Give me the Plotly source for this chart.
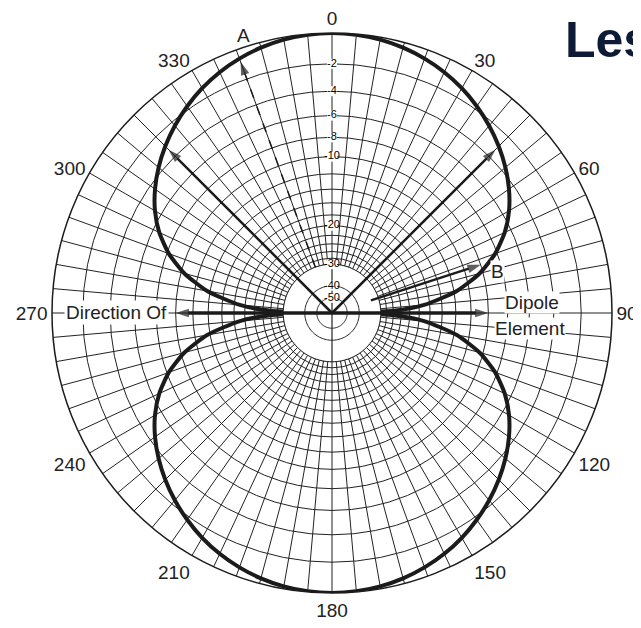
import plotly.graph_objects as go

# ---------------- data ----------------
theta_deg = [0, 5, 10, 15, 20, 25, 30, 35, 40, 45, 50, 55, 60, 65, 70, 75, 80, 85, 88, 90,
             92, 95, 100, 105, 110, 115, 120, 125, 130, 135, 140, 145, 150, 155, 160, 165, 170, 175, 180,
             185, 190, 195, 200, 205, 210, 215, 220, 225, 230, 235, 240, 245, 250, 255, 260, 265, 268, 270,
             272, 275, 280, 285, 290, 295, 300, 305, 310, 315, 320, 325, 330, 335, 340, 345, 350, 355, 360]
pattern_db = [0, -0.04, -0.15, -0.33, -0.58, -0.9, -1.3, -1.78, -2.33, -2.95, -3.65, -4.45, -5.4, -6.6,
              -8.2, -10.4, -13.6, -19, -26, -50,
              -26, -19, -13.6, -10.4, -8.2, -6.6, -5.4, -4.45, -3.65, -2.95, -2.33, -1.78, -1.3,
              -0.9, -0.58, -0.33, -0.15, -0.04, 0,
              -0.04, -0.15, -0.33, -0.58, -0.9, -1.3, -1.78, -2.33, -2.95, -3.65, -4.45, -5.4, -6.6,
              -8.2, -10.4, -13.6, -19, -26, -50,
              -26, -19, -13.6, -10.4, -8.2, -6.6, -5.4, -4.45, -3.65, -2.95, -2.33, -1.78, -1.3,
              -0.9, -0.58, -0.33, -0.15, -0.04, 0]

ring_db = [0, -2, -4, -6, -8, -10, -12, -14, -16, -18, -20, -22, -24, -26, -28, -30]
inner_ring_db = [-40, -50]
radial_label_db = [-2, -4, -6, -8, -10, -20, -30, -40, -50]
radial_label_text = ["-2", "-4", "-6", "-8", "-10", "-20", "-30", "-40", "-50"]

angle_grid = list(range(0, 360, 5))
angle_label_vals = [0, 30, 60, 90, 120, 150, 180, 210, 240, 270, 300, 330]

# arrows: direction (deg), start dB (None = centre), end dB, dashed?
arrow_theta = [45, 315, 340, 72, 90, 270]
arrow_start_db = [None, None, -30, -33, None, None]
arrow_end_db = [-3.3, -3.3, -0.8, -10, -10, -10]
arrow_dashed = [False, False, True, False, False, False]
arrow_width = [2.5, 2.5, 1.5, 2.5, 3.5, 3.5]


def rr(db):
    """ARRL log-periodic radial scale: 0.89 per 2 dB."""
    return 0.89 ** (-db / 2.0)


W, H = 641, 628
OFF = 8  # page body margin in the browser


def px(x):
    return (x - OFF) / W


def py(y):
    return 1 - (y - OFF) / H


fig = go.Figure()

# main dipole pattern
fig.add_trace(go.Scatterpolar(
    r=[rr(d) for d in pattern_db], theta=theta_deg, mode="lines",
    line=dict(color="#1b1b1b", width=4, shape="spline", smoothing=0.6),
    hoverinfo="skip", showlegend=False))

# white centre disk (no spokes inside -30 dB ring)
circ = list(range(0, 361, 3))
fig.add_trace(go.Scatterpolar(
    r=[rr(-30)] * len(circ), theta=circ, mode="lines", fill="toself",
    fillcolor="white", line=dict(color="#222", width=1),
    hoverinfo="skip", showlegend=False))
for d in inner_ring_db:
    fig.add_trace(go.Scatterpolar(
        r=[rr(d)] * len(circ), theta=circ, mode="lines",
        line=dict(color="#222", width=1), hoverinfo="skip", showlegend=False))
# vertical axis through centre
fig.add_trace(go.Scatterpolar(
    r=[rr(-30), 0, rr(-30)], theta=[0, 0, 180], mode="lines",
    line=dict(color="#222", width=1.2), hoverinfo="skip", showlegend=False))

# arrows
for t, s, e, dsh, w in zip(arrow_theta, arrow_start_db, arrow_end_db, arrow_dashed, arrow_width):
    r0 = 0 if s is None else rr(s)
    fig.add_trace(go.Scatterpolar(
        r=[r0, rr(e)], theta=[t, t], mode="lines+markers",
        line=dict(color="#1b1b1b", width=w, dash="dash" if dsh else "solid"),
        marker=dict(symbol=["circle", "arrow"], size=[0, 14], color="#1b1b1b",
                    angleref="previous", line=dict(width=0)),
        hoverinfo="skip", showlegend=False))

# radial dB labels along the 0 deg line
fig.add_trace(go.Scatterpolar(
    r=[rr(d) for d in radial_label_db], theta=[0] * len(radial_label_db),
    mode="markers+text", text=radial_label_text, textposition="middle center",
    marker=dict(symbol="square", size=10, color="white"),
    textfont=dict(family="Liberation Sans, Arial", size=11, color="#000"),
    hoverinfo="skip", showlegend=False))

lab = dict(family="Liberation Sans, Arial", size=19, color="#222")
fig.update_layout(
    width=W, height=H,
    margin=dict(l=0, r=0, t=0, b=0),
    paper_bgcolor="white",
    polar=dict(
        domain=dict(x=[px(52), px(612)], y=[py(593), py(33)]),
        bgcolor="white",
        angularaxis=dict(
            rotation=90, direction="clockwise",
            tickmode="array", tickvals=angle_grid,
            ticktext=[str(v) if v in angle_label_vals else "" for v in angle_grid],
            ticks="", showline=True, linecolor="#1b1b1b", linewidth=1.5,
            gridcolor="#222", gridwidth=1,
            tickfont=lab),
        radialaxis=dict(
            range=[0, 1], tickmode="array", tickvals=[rr(d) for d in ring_db],
            showticklabels=False, ticks="", showline=False,
            gridcolor="#222", gridwidth=1)),
    annotations=[
        dict(text="Direction Of", x=px(116), y=py(313), xref="paper", yref="paper",
             xanchor="center", yanchor="middle",
             showarrow=False, bgcolor="white", borderpad=1, font=lab),
        dict(text="Dipole", x=px(532), y=py(302), xref="paper", yref="paper",
             xanchor="center", yanchor="middle",
             showarrow=False, bgcolor="white", borderpad=0, font=lab),
        dict(text="Element", x=px(530), y=py(328), xref="paper", yref="paper",
             xanchor="center", yanchor="middle",
             showarrow=False, bgcolor="white", borderpad=0, font=lab),
        dict(text="A", x=px(243), y=py(35), xref="paper", yref="paper",
             xanchor="center", yanchor="middle", showarrow=False, font=lab),
        dict(text="B", x=px(497), y=py(271), xref="paper", yref="paper",
             xanchor="center", yanchor="middle",
             showarrow=False, bgcolor="white", borderpad=0, font=lab),
        dict(text="<b>Les</b>", x=px(563), y=py(40), xref="paper", yref="paper",
             xanchor="left", yanchor="middle", showarrow=False,
             font=dict(family="Liberation Sans, Arial", size=50, color="#0d1b36")),
    ],
)

fig.write_html("out.html")
